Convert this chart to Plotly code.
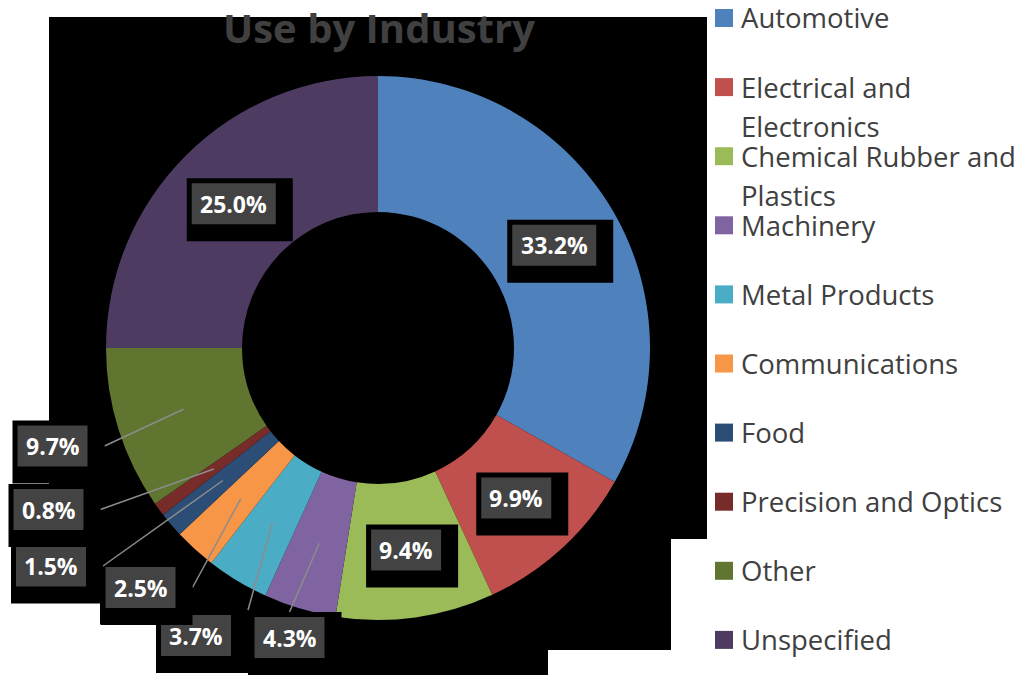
import math
import plotly.graph_objects as go

# ---- data -------------------------------------------------------------
categories = [
    "Automotive",
    "Electrical and\nElectronics",
    "Chemical Rubber and\nPlastics",
    "Machinery",
    "Metal Products",
    "Communications",
    "Food",
    "Precision and Optics",
    "Other",
    "Unspecified",
]
shares = [33.2, 9.9, 9.4, 4.3, 3.7, 2.5, 1.5, 0.8, 9.7, 25.0]
colors = [
    "#4F81BD", "#C0504D", "#9BBB59", "#8064A2", "#4BACC6",
    "#F79646", "#2C4D75", "#772C2A", "#5F7530", "#4D3B62",
]
title_text = "Use by Industry"

# ---- page geometry (pixels) ------------------------------------------
W, H = 1025, 675
CX, CY, R_OUT = 378, 348, 272
HOLE = 0.50
R_MID = R_OUT * (1 + HOLE) / 2


def px(x):
    return x / W


def py(y):
    return 1 - y / H


# Outside labels: gray-box centre and where the leader line leaves the box
outside_labels = {
    3: (289.5, 637.5, "top"),
    4: (196.0, 635.5, "corner"),
    5: (140.5, 587.5, "right"),
    6: (51.0, 566.0, "right"),
    7: (48.5, 509.5, "right"),
    8: (52.5, 446.0, "right"),
}

shapes = []

# black backdrop behind the chart area
for x0, y0, x1, y1 in [
    (49, 17, 707, 539),
    (100, 539, 671, 624),
    (156, 624, 671, 650),
    (156, 650, 548, 672),
    (248, 672, 548, 675),
]:
    shapes.append(dict(type="rect", xref="paper", yref="paper",
                       x0=px(x0), x1=px(x1), y0=py(y1), y1=py(y0),
                       fillcolor="black", line=dict(width=0), layer="below"))

annotations = []
total = sum(shares)
cum = 0.0
for i, v in enumerate(shares):
    mid = (cum + v / 2) / total * 2 * math.pi
    cum += v
    ix = CX + R_MID * math.sin(mid)
    iy = CY - R_MID * math.cos(mid)
    text = f"{v:.1f}%"
    bw = 14 * len(text) + 14
    bh = 41
    if i in outside_labels:
        bx, by, side = outside_labels[i]
    else:
        bx, by, side = ix, iy, None
    gx0, gx1 = bx - bw / 2, bx + bw / 2
    gy0, gy1 = by - bh / 2, by + bh / 2
    sx0, sy0, sx1, sy1 = gx0 - 5, gy0 - 5, gx1 + 17, gy1 + 17
    if side is not None:
        if side == "right":
            ax, ay = sx1, by
        elif side == "corner":
            ax, ay = sx1, sy0
        else:
            ax, ay = bx, sy0
        shapes.append(dict(type="line", xref="paper", yref="paper",
                           x0=px(ax), y0=py(ay), x1=px(ix), y1=py(iy),
                           line=dict(color="#8C8C8C", width=1.5), layer="above"))
    shapes.append(dict(type="rect", xref="paper", yref="paper",
                       x0=px(sx0), x1=px(sx1), y0=py(sy1), y1=py(sy0),
                       fillcolor="black", line=dict(width=0), layer="above"))
    shapes.append(dict(type="rect", xref="paper", yref="paper",
                       x0=px(gx0), x1=px(gx1), y0=py(gy1), y1=py(gy0),
                       fillcolor="#434343", line=dict(width=0), layer="above"))
    annotations.append(dict(x=px(bx), y=py(by), xref="paper", yref="paper",
                            text=text, showarrow=False,
                            xanchor="center", yanchor="middle",
                            font=dict(family="Open Sans", size=23,
                                      color="white", weight="bold")))

# legend drawn beside the ring
LEG_X, LEG_Y0, LEG_STEP, LINE_STEP = 715, 18, 69.1, 39
for i, (name, col) in enumerate(zip(categories, colors)):
    yc = LEG_Y0 + LEG_STEP * i
    shapes.append(dict(type="rect", xref="paper", yref="paper",
                       x0=px(LEG_X), x1=px(LEG_X + 18),
                       y0=py(yc + 9), y1=py(yc - 9),
                       fillcolor=col, line=dict(width=0)))
    for j, line in enumerate(name.split("\n")):
        annotations.append(dict(x=px(LEG_X + 24), y=py(yc + LINE_STEP * j),
                                xref="paper", yref="paper", text=line,
                                showarrow=False, xanchor="left",
                                yanchor="middle",
                                font=dict(family="Open Sans", size=27.5,
                                          color="#404040")))

annotations.append(dict(x=px(CX + 1), y=py(27), xref="paper", yref="paper",
                        text=title_text, showarrow=False,
                        xanchor="center", yanchor="middle",
                        font=dict(family="Open Sans", size=40,
                                  color="#404040", weight="bold")))

fig = go.Figure(go.Pie(
    labels=[c.replace("\n", " ") for c in categories],
    values=shares,
    marker=dict(colors=colors, line=dict(width=0)),
    hole=HOLE,
    sort=False,
    direction="clockwise",
    rotation=0,
    textinfo="none",
    showlegend=False,
    domain=dict(x=[px(CX - R_OUT), px(CX + R_OUT)],
                y=[py(CY + R_OUT), py(CY - R_OUT)]),
))

fig.update_layout(
    width=W, height=H,
    margin=dict(l=0, r=0, t=0, b=0),
    paper_bgcolor="white",
    plot_bgcolor="white",
    shapes=shapes,
    annotations=annotations,
)

fig.write_html("out.html")
